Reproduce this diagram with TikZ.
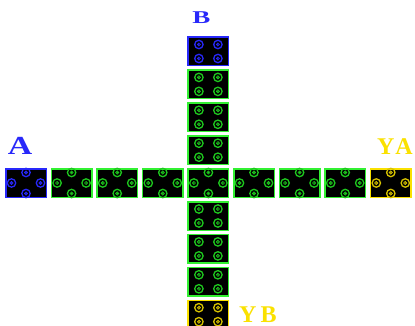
\documentclass[tikz,border=0pt]{standalone}
\usepackage{fontspec}
\setmainfont{Liberation Serif}
\usetikzlibrary{positioning}
\definecolor{tokblue}{RGB}{40,40,250}
\definecolor{trackgreen}{RGB}{50,240,50}
\definecolor{tokgreen}{RGB}{30,200,30}
\definecolor{tokyellow}{RGB}{250,225,0}
\definecolor{tokyellowd}{RGB}{215,195,0}
\tikzset{
  cell/.style={draw, line width=1.5pt, fill=black, minimum width=40.5pt, minimum height=28.5pt, inner sep=0pt},
  lbl/.style={font=\bfseries\fontsize{24}{24}\selectfont, inner sep=0pt, anchor=base},
  token/.pic={
    \draw[line width=1.3pt] (0,0) circle (4.2pt);
    \draw[line width=0.7pt] (0,0) circle (1.6pt);
    \fill (0,0) circle (0.8pt);
  }
}
\begin{document}
\begin{tikzpicture}[x=1pt, y=-1pt]
\useasboundingbox[fill=white] (0,0) rectangle (415,326);

% Horizontal track
\node[cell, draw=tokblue] (hA) at (26,183) {};
\foreach \i in {1,...,7}
  \node[cell, draw=trackgreen] (h\i) at (26+45.6*\i,183) {};
\node[cell, draw=tokyellow] (hY) at (390.8,183) {};

% Vertical track
\node[cell, draw=tokblue] (vB) at (208.4,51.5) {};
\foreach \j in {1,2,3,5,6,7}
  \node[cell, draw=trackgreen] (v\j) at (208.4,51.5+32.9*\j) {};
\node[cell, draw=tokyellow] (vY) at (208.4,314.7) {};

% Tokens on the horizontal track (diamond layout)
\foreach \c/\col in {hA/tokblue, h1/tokgreen, h2/tokgreen, h3/tokgreen, h4/tokgreen,
                     h5/tokgreen, h6/tokgreen, h7/tokgreen, hY/tokyellowd}
  \foreach \dx/\dy in {0/-10.5, 0/10.5, -14.5/0, 14.5/0}
    \pic[\col] at ([shift={(\dx,\dy)}]\c.center) {token};

% Tokens on the vertical track (grid layout)
\foreach \c/\col in {vB/tokblue, v1/tokgreen, v2/tokgreen, v3/tokgreen,
                     v5/tokgreen, v6/tokgreen, v7/tokgreen, vY/tokyellowd}
  \foreach \dx/\dy in {-9.5/-7, 9.5/-7, -9.5/7, 9.5/7}
    \pic[\col] at ([shift={(\dx,\dy)}]\c.center) {token};

% Labels
\node[lbl, text=tokblue, xscale=1.3, font=\bfseries\fontsize{26}{26}\selectfont] (labA) at (20,155) {A};
\node[lbl, text=tokblue, xscale=1.5, font=\bfseries\fontsize{18}{18}\selectfont] (labB) at (201.5,24) {B};
\node[lbl, text=tokyellow, anchor=base east] (labYA) at (413,155) {Y\kern1pt A};
\node[lbl, text=tokyellow, anchor=base west] (labYB) at (239,322) {Y\kern4pt B};

\end{tikzpicture}
\end{document}
